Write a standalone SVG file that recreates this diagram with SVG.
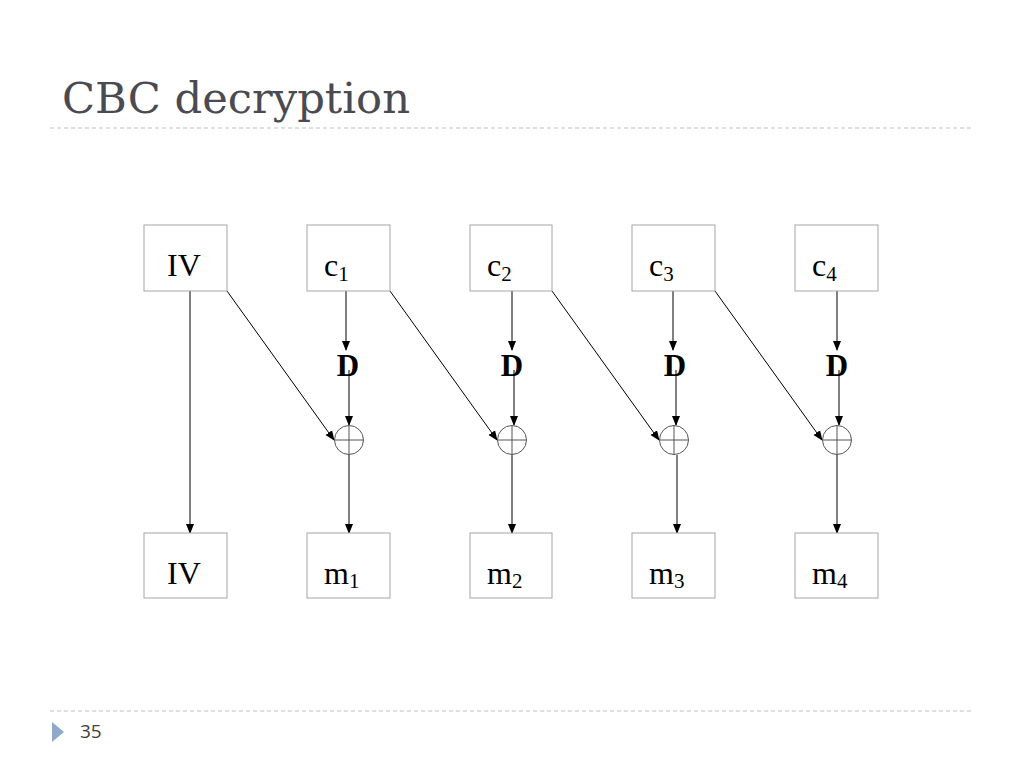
<svg xmlns="http://www.w3.org/2000/svg" width="1024" height="768" viewBox="0 0 1024 768">
<defs>
<marker id="ah" markerWidth="10" markerHeight="10" refX="9" refY="5" orient="auto" markerUnits="userSpaceOnUse">
<path d="M0,1 L10,5 L0,9 Z" fill="#000"/>
</marker>
<style>
.box{fill:#fff;stroke:#a6a6a6;stroke-width:1}
.lbl{font-family:"Liberation Serif",serif;font-size:32px;fill:#000}
.sub{font-size:21px}
.d{font-family:"Liberation Serif",serif;font-size:31px;font-weight:bold;fill:#000;text-anchor:middle}
.ln{stroke:#000;stroke-width:1;fill:none}
.arr{stroke:#000;stroke-width:1;fill:none;marker-end:url(#ah)}
.x{fill:#fff;stroke:#555;stroke-width:1}
.xl{stroke:#555;stroke-width:1}
.dash{stroke:#bfbfbf;stroke-width:1;stroke-dasharray:4,3}
</style>
</defs>
<rect width="1024" height="768" fill="#fff"/>
<text x="62" y="113" font-family="DejaVu Serif,serif" font-size="42" fill="#4a4a52" textLength="348" lengthAdjust="spacingAndGlyphs">CBC decryption</text>
<line class="dash" x1="50" y1="128" x2="972" y2="128"/>
<line class="dash" x1="50" y1="711" x2="972" y2="711"/>
<polygon points="52,722 64,732 52,742" fill="#8eaacb"/>
<text x="80" y="738" font-family="Open Sans,sans-serif" font-size="19" fill="#404040">35</text>

<g id="connectors">
<line class="arr" x1="190" y1="291" x2="190" y2="533"/>
<line class="arr" x1="227" y1="291" x2="334" y2="440"/>
<line class="arr" x1="390" y1="291" x2="497" y2="440"/>
<line class="arr" x1="552" y1="291" x2="659" y2="440"/>
<line class="arr" x1="715" y1="291" x2="822" y2="440"/>
<line class="arr" x1="346" y1="291" x2="346" y2="350"/>
<line class="arr" x1="512" y1="291" x2="512" y2="350"/>
<line class="arr" x1="673" y1="291" x2="673" y2="350"/>
<line class="arr" x1="837" y1="291" x2="837" y2="350"/>
<line class="arr" x1="349" y1="370" x2="349" y2="425"/>
<line class="arr" x1="514" y1="370" x2="514" y2="425"/>
<line class="arr" x1="676" y1="370" x2="676" y2="425"/>
<line class="arr" x1="839" y1="370" x2="839" y2="425"/>
<line class="arr" x1="349" y1="455" x2="349" y2="533"/>
<line class="arr" x1="512" y1="455" x2="512" y2="533"/>
<line class="arr" x1="677" y1="455" x2="677" y2="533"/>
<line class="arr" x1="837" y1="455" x2="837" y2="533"/>
</g>

<g id="iv-top"><rect class="box" x="144" y="225" width="83" height="66"/><text class="lbl" x="167" y="276">IV</text></g>
<g id="c1"><rect class="box" x="307" y="225" width="83" height="66"/><text class="lbl" x="324" y="276">c<tspan class="sub" dy="5">1</tspan></text></g>
<g id="c2"><rect class="box" x="470" y="225" width="82" height="66"/><text class="lbl" x="487" y="276">c<tspan class="sub" dy="5">2</tspan></text></g>
<g id="c3"><rect class="box" x="632" y="225" width="83" height="66"/><text class="lbl" x="649" y="276">c<tspan class="sub" dy="5">3</tspan></text></g>
<g id="c4"><rect class="box" x="795" y="225" width="83" height="66"/><text class="lbl" x="812" y="276">c<tspan class="sub" dy="5">4</tspan></text></g>

<g id="d1"><text class="d" x="348" y="376">D</text></g>
<g id="d2"><text class="d" x="512" y="376">D</text></g>
<g id="d3"><text class="d" x="675" y="376">D</text></g>
<g id="d4"><text class="d" x="837" y="376">D</text></g>

<g id="x1"><circle class="x" cx="349" cy="440" r="14.5"/><line class="xl" x1="334.5" y1="440" x2="363.5" y2="440"/><line class="xl" x1="349" y1="425.5" x2="349" y2="454.5"/></g>
<g id="x2"><circle class="x" cx="512" cy="440" r="14.5"/><line class="xl" x1="497.5" y1="440" x2="526.5" y2="440"/><line class="xl" x1="512" y1="425.5" x2="512" y2="454.5"/></g>
<g id="x3"><circle class="x" cx="674" cy="440" r="14.5"/><line class="xl" x1="659.5" y1="440" x2="688.5" y2="440"/><line class="xl" x1="674" y1="425.5" x2="674" y2="454.5"/></g>
<g id="x4"><circle class="x" cx="837" cy="440" r="14.5"/><line class="xl" x1="822.5" y1="440" x2="851.5" y2="440"/><line class="xl" x1="837" y1="425.5" x2="837" y2="454.5"/></g>

<g id="iv-bot"><rect class="box" x="144" y="533" width="83" height="65"/><text class="lbl" x="167" y="584">IV</text></g>
<g id="m1"><rect class="box" x="307" y="533" width="83" height="65"/><text class="lbl" x="324" y="584">m<tspan class="sub" dy="4">1</tspan></text></g>
<g id="m2"><rect class="box" x="470" y="533" width="82" height="65"/><text class="lbl" x="487" y="584">m<tspan class="sub" dy="4">2</tspan></text></g>
<g id="m3"><rect class="box" x="632" y="533" width="83" height="65"/><text class="lbl" x="649" y="584">m<tspan class="sub" dy="4">3</tspan></text></g>
<g id="m4"><rect class="box" x="795" y="533" width="83" height="65"/><text class="lbl" x="812" y="584">m<tspan class="sub" dy="4">4</tspan></text></g>
</svg>
